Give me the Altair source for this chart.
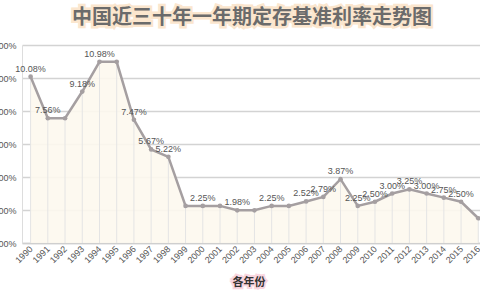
import altair as alt
import pandas as pd

years = list(range(1990, 2017))
rates = [10.08, 7.56, 7.56, 9.18, 10.98, 10.98, 7.47, 5.67, 5.22, 2.25, 2.25, 2.25,
         1.98, 1.98, 2.25, 2.25, 2.52, 2.79, 3.87, 2.25, 2.50, 3.00, 3.25, 3.00,
         2.75, 2.50, 1.50]
label_years = [1990, 1991, 1993, 1994, 1996, 1997, 1998, 2000, 2002, 2004, 2006,
               2007, 2008, 2009, 2010, 2011, 2012, 2013, 2014, 2015]
y_ticks = [0, 2, 4, 6, 8, 10, 12]
title_text = "中国近三十年一年期定存基准利率走势图"
x_title_text = "各年份"

df = pd.DataFrame({"year": years, "rate": rates})
df["label"] = [f"{r:.2f}%" if y in label_years else "" for y, r in zip(years, rates)]

num_font = "Liberation Sans"
cjk_font = "Noto Sans CJK SC"
line_color = "#a59fa1"

x_enc = alt.X("year:Q", scale=alt.Scale(domain=[1989.5, 2016.1], nice=False, zero=False),
              axis=alt.Axis(values=years, format="d", labelAngle=-45, labelAlign="right",
                            labelBaseline="middle", labelFontSize=9, labelColor="#555555",
                            labelFont=num_font, ticks=False, grid=False, labelPadding=4,
                            domainColor="#cfcfcf", domainWidth=1.5, title=None,
                            labelOverlap=False, labelFlush=False))
y_enc = alt.Y("rate:Q", scale=alt.Scale(domain=[0, 12], nice=False),
              axis=alt.Axis(values=y_ticks, labelExpr="format(datum.value,'.2f')+'%'",
                            labelFontSize=9, labelColor="#555555", labelFont=num_font,
                            ticks=False, gridColor="#d3d3d3", gridWidth=1.5,
                            domainColor="#dddddd", labelPadding=6, title=None,
                            labelOverlap=False, labelFlush=False))

base = alt.Chart(df)

area = base.mark_area(color="#fdf8ee", opacity=0.9).encode(x=x_enc, y=y_enc)
drops = base.mark_rule(color="#e4e4e4", strokeWidth=1).encode(x=x_enc, y=y_enc, y2=alt.datum(0))
line = base.mark_line(color=line_color, strokeWidth=2.5).encode(x=x_enc, y=y_enc)
points = base.mark_circle(color=line_color, size=22, opacity=1).encode(x=x_enc, y=y_enc)
labels = base.mark_text(fontSize=9, color="#555555", font=num_font, dy=-8).encode(
    x=x_enc, y=y_enc, text="label:N")

tdf = pd.DataFrame({"t": [title_text]})
title_glow = alt.Chart(tdf).mark_text(fontSize=20, fontWeight="bold", font=cjk_font,
                                      color="#f6c89a", stroke="#f9d6ae", strokeWidth=5,
                                      opacity=0.6, align="center", baseline="middle").encode(
    x=alt.value(230), y=alt.value(-27), text="t:N")
title = alt.Chart(tdf).mark_text(fontSize=20, fontWeight="bold", font=cjk_font,
                                 color="#6b6b6b", align="center", baseline="middle").encode(
    x=alt.value(230), y=alt.value(-27), text="t:N")

xdf = pd.DataFrame({"t": [x_title_text]})
xt_glow = alt.Chart(xdf).mark_text(fontSize=11, fontWeight="bold", font=cjk_font,
                                   color="#f3b3c4", stroke="#f7c6d2", strokeWidth=4,
                                   opacity=0.7, align="center", baseline="middle").encode(
    x=alt.value(227), y=alt.value(238), text="t:N")
xt = alt.Chart(xdf).mark_text(fontSize=11, fontWeight="bold", font=cjk_font,
                              color="#333333", align="center", baseline="middle").encode(
    x=alt.value(227), y=alt.value(238), text="t:N")

chart = alt.layer(area, drops, line, points, labels, title_glow, title, xt_glow, xt).properties(
    width=458, height=198,
    autosize=alt.AutoSizeParams(type="none"),
    padding={"left": 22, "top": 45, "right": 0, "bottom": 57},
    background="white",
).configure_view(stroke=None)

chart.save("out.html", embed_options={"renderer": "svg", "actions": False})
